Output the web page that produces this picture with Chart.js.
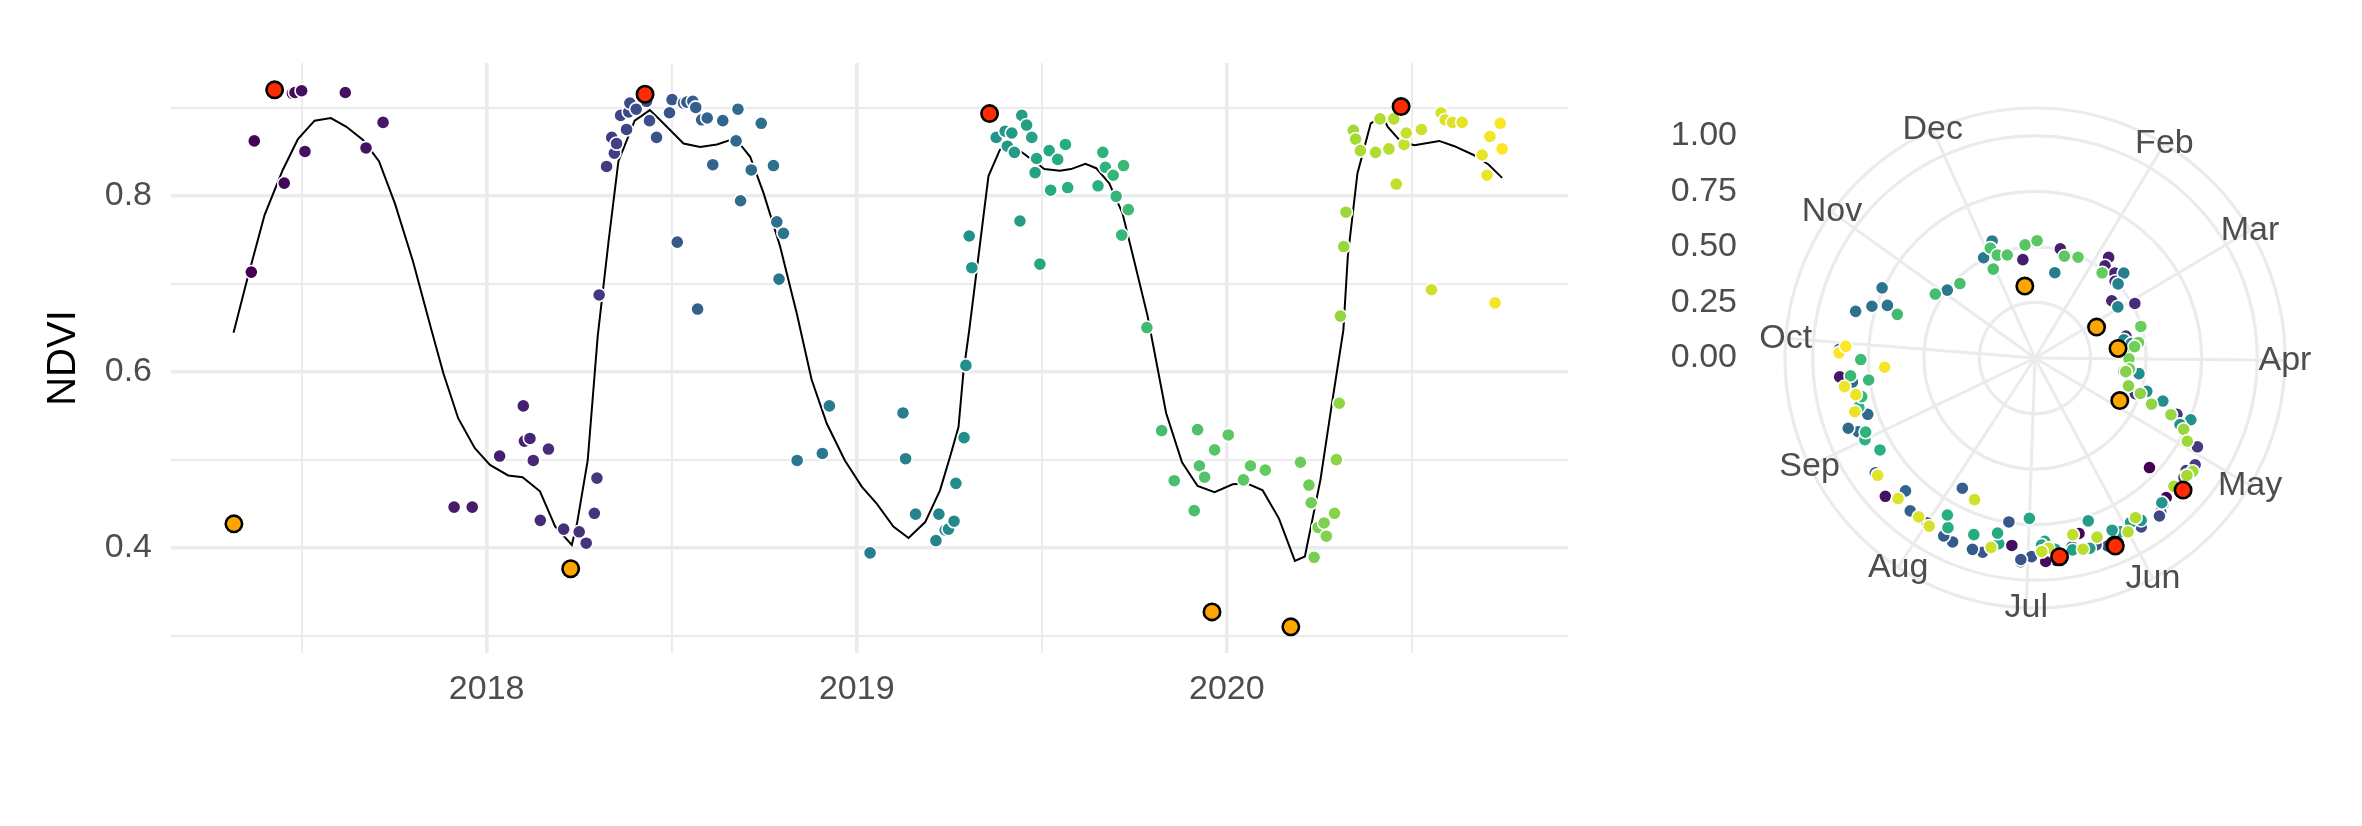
<!DOCTYPE html>
<html>
<head>
<meta charset="utf-8">
<title>NDVI time series</title>
<script src="https://cdn.jsdelivr.net/npm/chart.js@4.4.1/dist/chart.umd.min.js"></script>
<style>
  html, body { margin: 0; padding: 0; background: #ffffff; }
  #wrap { position: relative; width: 2362px; height: 826px; }
  #timeChart { position: absolute; left: 0; top: 0; }
  #polarChart { position: absolute; left: 1600px; top: 0; }
</style>
</head>
<body>
<div id="wrap">
  <canvas id="timeChart" width="1600" height="826"></canvas>
  <canvas id="polarChart" width="762" height="826"></canvas>
</div>
<script>
/*******************************************
 * DATA
 *******************************************/

// observations: decimal year / NDVI (sorted by date)
const obsYear = [
  2017.364, 2017.372, 2017.453, 2017.475, 2017.482, 2017.500, 2017.509, 2017.618, 2017.674, 2017.720,
  2017.912, 2017.961, 2018.035, 2018.099, 2018.102, 2018.117, 2018.126, 2018.145, 2018.167, 2018.208,
  2018.250, 2018.269, 2018.291, 2018.298, 2018.304, 2018.324, 2018.338, 2018.345, 2018.351, 2018.362,
  2018.378, 2018.384, 2018.387, 2018.404, 2018.432, 2018.440, 2018.459, 2018.494, 2018.501, 2018.515,
  2018.532, 2018.541, 2018.557, 2018.565, 2018.570, 2018.581, 2018.596, 2018.611, 2018.638, 2018.674,
  2018.679, 2018.686, 2018.715, 2018.742, 2018.775, 2018.784, 2018.790, 2018.802, 2018.839, 2018.907,
  2018.926, 2019.036, 2019.125, 2019.132, 2019.159, 2019.214, 2019.222, 2019.239, 2019.248, 2019.263,
  2019.268, 2019.290, 2019.295, 2019.304, 2019.311, 2019.377, 2019.401, 2019.407, 2019.419, 2019.426,
  2019.441, 2019.446, 2019.459, 2019.473, 2019.482, 2019.486, 2019.495, 2019.520, 2019.524, 2019.543,
  2019.564, 2019.570, 2019.652, 2019.665, 2019.672, 2019.693, 2019.701, 2019.716, 2019.721, 2019.734,
  2019.784, 2019.824, 2019.858, 2019.912, 2019.921, 2019.926, 2019.940, 2019.967, 2020.004, 2020.045,
  2020.064, 2020.104, 2020.199, 2020.222, 2020.228, 2020.236, 2020.247, 2020.263, 2020.269, 2020.291,
  2020.296, 2020.304, 2020.307, 2020.316, 2020.322, 2020.342, 2020.348, 2020.361, 2020.402, 2020.414,
  2020.438, 2020.451, 2020.458, 2020.479, 2020.485, 2020.526, 2020.553, 2020.579, 2020.590, 2020.610,
  2020.636, 2020.690, 2020.703, 2020.711, 2020.725, 2020.739, 2020.744
];
const obsNdvi = [
  0.713, 0.862, 0.814, 0.916, 0.917, 0.919, 0.850, 0.917, 0.854, 0.883,
  0.446, 0.446, 0.504, 0.561, 0.521, 0.524, 0.499, 0.431, 0.512, 0.421,
  0.418, 0.405, 0.439, 0.479, 0.687, 0.833, 0.866, 0.848, 0.859, 0.891,
  0.875, 0.895, 0.905, 0.898, 0.907, 0.885, 0.866, 0.894, 0.909, 0.747,
  0.905, 0.906, 0.907, 0.900, 0.671, 0.886, 0.888, 0.835, 0.885, 0.862,
  0.898, 0.794, 0.829, 0.882, 0.834, 0.770, 0.705, 0.757, 0.499, 0.507,
  0.561, 0.394, 0.553, 0.501, 0.438, 0.408, 0.438, 0.420, 0.421, 0.430,
  0.473, 0.525, 0.607, 0.754, 0.718, 0.866, 0.873, 0.856, 0.871, 0.849,
  0.771, 0.891, 0.880, 0.866, 0.826, 0.842, 0.722, 0.851, 0.806, 0.841,
  0.858, 0.809, 0.811, 0.849, 0.832, 0.823, 0.799, 0.755, 0.834, 0.784,
  0.650, 0.533, 0.476, 0.442, 0.534, 0.493, 0.480, 0.511, 0.528, 0.477,
  0.493, 0.488, 0.497, 0.471, 0.451, 0.389, 0.423, 0.428, 0.413, 0.439,
  0.500, 0.564, 0.663, 0.742, 0.781, 0.874, 0.864, 0.851, 0.849, 0.887,
  0.853, 0.887, 0.813, 0.858, 0.871, 0.875, 0.693, 0.894, 0.886, 0.883,
  0.883, 0.846, 0.823, 0.867, 0.678, 0.882, 0.853
];

// seasonal maximum (red) and minimum (orange)
const peakYear = [2017.427, 2018.428, 2019.359, 2020.471];
const peakNdvi = [0.920, 0.915, 0.893, 0.901];
const lowYear = [2017.317, 2018.227, 2019.960, 2020.173];
const lowNdvi = [0.427, 0.376, 0.327, 0.310];

// smoothed curve
const fitYear = [
  2017.316, 2017.350, 2017.400, 2017.449, 2017.490, 2017.535, 2017.579, 2017.621, 2017.666, 2017.709,
  2017.752, 2017.801, 2017.851, 2017.883, 2017.923, 2017.968, 2018.009, 2018.058, 2018.097, 2018.144,
  2018.185, 2018.230, 2018.244, 2018.273, 2018.300, 2018.330, 2018.356, 2018.400, 2018.441, 2018.468,
  2018.532, 2018.577, 2018.622, 2018.658, 2018.689, 2018.712, 2018.748, 2018.793, 2018.838, 2018.878,
  2018.919, 2018.968, 2019.014, 2019.054, 2019.099, 2019.140, 2019.185, 2019.225, 2019.252, 2019.275,
  2019.288, 2019.304, 2019.356, 2019.387, 2019.415, 2019.450, 2019.507, 2019.549, 2019.579, 2019.618,
  2019.647, 2019.682, 2019.718, 2019.749, 2019.786, 2019.836, 2019.879, 2019.921, 2019.967, 2020.016,
  2020.054, 2020.097, 2020.141, 2020.184, 2020.211, 2020.253, 2020.282, 2020.315, 2020.327, 2020.353,
  2020.389, 2020.420, 2020.435, 2020.471, 2020.507, 2020.574, 2020.615, 2020.667, 2020.708, 2020.744
];
const fitNdvi = [
  0.644, 0.700, 0.778, 0.829, 0.864, 0.885, 0.888, 0.878, 0.863, 0.839,
  0.791, 0.725, 0.647, 0.598, 0.547, 0.513, 0.494, 0.482, 0.480, 0.464,
  0.424, 0.403, 0.427, 0.499, 0.640, 0.750, 0.839, 0.885, 0.897, 0.886,
  0.859, 0.855, 0.858, 0.863, 0.856, 0.844, 0.803, 0.742, 0.666, 0.591,
  0.541, 0.499, 0.469, 0.450, 0.424, 0.411, 0.429, 0.465, 0.503, 0.537,
  0.598, 0.647, 0.822, 0.852, 0.858, 0.848, 0.830, 0.828, 0.830, 0.836,
  0.831, 0.814, 0.780, 0.727, 0.663, 0.553, 0.497, 0.470, 0.463, 0.472,
  0.473, 0.465, 0.433, 0.385, 0.390, 0.477, 0.558, 0.647, 0.731, 0.825,
  0.882, 0.890, 0.878, 0.861, 0.857, 0.862, 0.856, 0.846, 0.835, 0.820
];

// axis breaks
const xBreaks = [2017.5, 2018, 2018.5, 2019, 2019.5, 2020, 2020.5];
const yBreaks = [0.3, 0.4, 0.5, 0.6, 0.7, 0.8, 0.9];
const radialBreaks = [0, 0.25, 0.5, 0.75, 1];
const radialOuter = 1.125;

// months on the circle (Jan falls on the limit and is not labelled)
const monthNames = ["", "Feb", "Mar", "Apr", "May", "Jun", "Jul", "Aug", "Sep", "Oct", "Nov", "Dec"];
const monthStart = [0, 31, 59, 90, 120, 151, 181, 212, 243, 273, 304, 334];
const dayCount = 358;

/*******************************************
 * STYLE HELPERS
 *******************************************/

const FONT = "'Liberation Sans', Arial, sans-serif";
const GRID = "#ebebeb";
const TEXT = "#4d4d4d";
const PEAK_COLOR = "#fe2c02";
const LOW_COLOR = "#ffa500";
const DOT_R = 6.6;
const BIG_R = 8.2;

Chart.defaults.font.family = FONT;

const viridisStops = ["#440154", "#472d7b", "#3b528b", "#2c728e", "#21918c", "#28ae80", "#5ec962", "#addc30", "#fde725"];

function hexToRgb(h) {
  return [1, 3, 5].map((i) => parseInt(h.slice(i, i + 2), 16));
}

function viridis(t) {
  const pos = Math.max(0, Math.min(1, t)) * (viridisStops.length - 1);
  const i = Math.min(Math.floor(pos), viridisStops.length - 2);
  const f = pos - i;
  const a = hexToRgb(viridisStops[i]);
  const b = hexToRgb(viridisStops[i + 1]);
  const c = a.map((v, k) => Math.round(v + (b[k] - v) * f));
  return `rgb(${c[0]},${c[1]},${c[2]})`;
}

// colour follows the order of the observations
const obsColors = obsYear.map((_, i) => viridis(i / (obsYear.length - 1)));

function toPoints(xs, ys) {
  return xs.map((x, i) => ({ x: x, y: ys[i] }));
}

/*******************************************
 * TIME SERIES
 *******************************************/

new Chart(document.getElementById("timeChart"), {
  type: "scatter",
  data: {
    datasets: [
      {
        data: toPoints(fitYear, fitNdvi),
        showLine: true,
        borderColor: "#000000",
        borderWidth: 2,
        pointRadius: 0,
        order: 3,
      },
      {
        data: toPoints(obsYear, obsNdvi),
        pointBackgroundColor: obsColors,
        pointBorderColor: "#ffffff",
        pointBorderWidth: 1.6,
        pointRadius: DOT_R,
        order: 2,
      },
      {
        data: toPoints(peakYear, peakNdvi),
        pointBackgroundColor: PEAK_COLOR,
        pointBorderColor: "#000000",
        pointBorderWidth: 2.6,
        pointRadius: BIG_R,
        order: 1,
      },
      {
        data: toPoints(lowYear, lowNdvi),
        pointBackgroundColor: LOW_COLOR,
        pointBorderColor: "#000000",
        pointBorderWidth: 2.6,
        pointRadius: BIG_R,
        order: 1,
      },
    ],
  },
  options: {
    responsive: false,
    animation: false,
    devicePixelRatio: 1,
    layout: { padding: { left: 0, top: 63, right: 32, bottom: 113 } },
    plugins: { legend: { display: false }, tooltip: { enabled: false } },
    scales: {
      x: {
        type: "linear",
        min: 2017.147,
        max: 2020.922,
        afterBuildTicks: (axis) => {
          axis.ticks = xBreaks.map((v) => ({ value: v }));
        },
        afterFit: (axis) => {
          axis.height = 60;
        },
        border: { display: false },
        grid: {
          color: GRID,
          drawTicks: false,
          lineWidth: (c) => (Number.isInteger(c.tick.value) ? 3.6 : 1.9),
        },
        ticks: {
          autoSkip: false,
          maxRotation: 0,
          padding: 16,
          color: TEXT,
          font: { size: 34 },
          callback: (v) => (Number.isInteger(v) ? String(v) : ""),
        },
      },
      y: {
        min: 0.2803,
        max: 0.9505,
        afterBuildTicks: (axis) => {
          axis.ticks = yBreaks.map((v) => ({ value: v }));
        },
        afterFit: (axis) => {
          axis.width = 171;
        },
        border: { display: false },
        grid: {
          color: GRID,
          drawTicks: false,
          lineWidth: (c) => (Math.round(c.tick.value * 10) % 2 === 0 ? 3.6 : 1.9),
        },
        ticks: {
          autoSkip: false,
          padding: 19,
          color: TEXT,
          font: { size: 34 },
          callback: (v) => (Math.round(v * 10) % 2 === 0 ? v.toFixed(1) : ""),
        },
        title: {
          display: true,
          text: "NDVI",
          color: "#000000",
          font: { size: 40 },
          padding: { top: 40, bottom: 0 },
        },
      },
    },
  },
});

/*******************************************
 * SEASONAL CIRCLE
 *******************************************/

const dayLabels = Array.from({ length: dayCount }, (_, i) => {
  const m = monthStart.indexOf(i);
  return m >= 0 ? monthNames[m] : "";
});

function dayIndex(year) {
  const frac = year - Math.floor(year);
  return Math.min(dayCount - 1, Math.round(frac * 365));
}

// one radar dataset per year (extra ones if two dates share a day)
const polarSets = [];

function addPolarPoint(year, value, color, border, radius, order) {
  const idx = dayIndex(year);
  let ds = polarSets.find((d) => d.order === order && d.data[idx] === null);
  if (!ds) {
    ds = {
      data: new Array(dayCount).fill(null),
      pointBackgroundColor: new Array(dayCount).fill(color),
      pointBorderColor: border,
      pointBorderWidth: border === "#ffffff" ? 1.6 : 2.6,
      pointRadius: radius,
      showLine: false,
      borderColor: "rgba(0,0,0,0)",
      backgroundColor: "rgba(0,0,0,0)",
      borderWidth: 0,
      fill: false,
      order: order,
    };
    polarSets.push(ds);
  }
  ds.data[idx] = value;
  ds.pointBackgroundColor[idx] = color;
}

obsYear.forEach((y, i) => addPolarPoint(y, obsNdvi[i], obsColors[i], "#ffffff", DOT_R, 3000 - Math.floor(y)));
peakYear.forEach((y, i) => addPolarPoint(y, peakNdvi[i], PEAK_COLOR, "#000000", BIG_R, 1));
lowYear.forEach((y, i) => addPolarPoint(y, lowNdvi[i], LOW_COLOR, "#000000", BIG_R, 1));

// month names on the outer circle and radial values on the left
const polarText = {
  id: "polarText",
  afterDraw(chart) {
    const r = chart.scales.r;
    const ctx = chart.ctx;
    ctx.save();
    ctx.fillStyle = TEXT;
    ctx.font = `34px ${FONT}`;
    ctx.textAlign = "center";
    ctx.textBaseline = "middle";
    const outer = r.getDistanceFromCenterForValue(radialOuter);
    dayLabels.forEach((lab, i) => {
      if (!lab) return;
      const p = r.getPointPosition(i, outer);
      ctx.fillText(lab, p.x, p.y);
    });
    ctx.textAlign = "right";
    radialBreaks.forEach((v) => {
      ctx.fillText(v.toFixed(2), 137, r.yCenter - r.getDistanceFromCenterForValue(v));
    });
    ctx.restore();
  },
};

new Chart(document.getElementById("polarChart"), {
  type: "radar",
  data: { labels: dayLabels, datasets: polarSets },
  options: {
    responsive: false,
    animation: false,
    devicePixelRatio: 1,
    layout: { padding: { left: 185, right: 77, top: 108, bottom: 218 } },
    plugins: { legend: { display: false }, tooltip: { enabled: false }, colors: { enabled: false } },
    scales: {
      r: {
        min: 0,
        max: radialOuter,
        afterBuildTicks: (axis) => {
          axis.ticks = radialBreaks.concat([radialOuter]).map((v) => ({ value: v }));
        },
        ticks: { display: false },
        pointLabels: { display: false },
        grid: { circular: true, color: GRID, lineWidth: 3.2 },
        angleLines: {
          color: GRID,
          lineWidth: (c) => (c.label ? 3 : 0),
        },
      },
    },
  },
  plugins: [polarText],
});
</script>
</body>
</html>
